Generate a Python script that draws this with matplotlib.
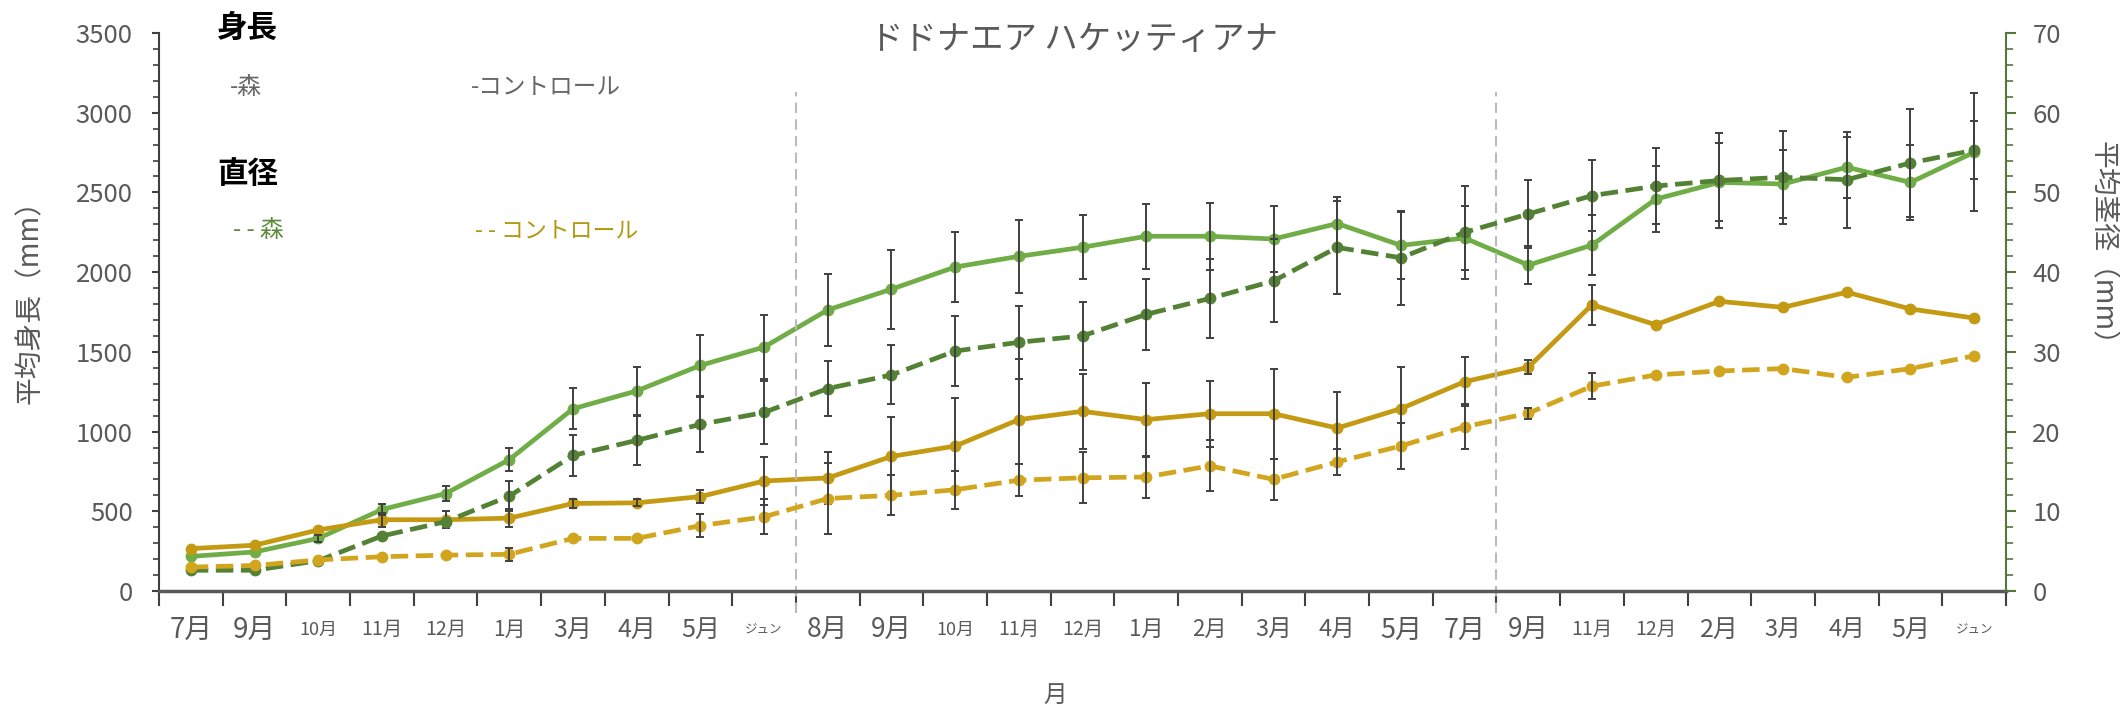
import numpy as np
import matplotlib
matplotlib.use('Agg')
import matplotlib.pyplot as plt
from matplotlib.ticker import MultipleLocator

months = ['7月', '9月', '10月', '11月', '12月', '1月', '3月', '4月', '5月', 'ジュン',
          '8月', '9月', '10月', '11月', '12月', '1月', '2月', '3月', '4月', '5月',
          '7月', '9月', '11月', '12月', '2月', '3月', '4月', '5月', 'ジュン']

# height (mm), left axis
height_forest = [217, 245, 330, 511, 611, 824, 1143, 1255, 1415, 1530,
                 1763, 1893, 2032, 2099, 2156, 2225, 2225, 2208, 2305, 2168,
                 2214, 2044, 2170, 2458, 2563, 2553, 2658, 2563, 2752]
height_control = [266, 287, 383, 447, 447, 457, 549, 553, 592, 690,
                  709, 844, 909, 1075, 1127, 1075, 1112, 1112, 1022, 1144,
                  1313, 1403, 1796, 1670, 1817, 1779, 1874, 1769, 1712]
err_height_forest = [0, 0, 20, 32, 47, 70, 128, 148, 189, 200,
                     228, 247, 222, 231, 200, 204, 210, 204, 168, 210,
                     200, 120, 190, 205, 245, 215, 190, 235, 370]
err_height_control = [0, 0, 0, 43, 53, 58, 30, 21, 40, 149,
                      162, 250, 300, 380, 236, 232, 208, 281, 227, 262,
                      152, 45, 125, 0, 0, 0, 0, 0, 0]

# stem diameter (mm), right axis
diam_forest = [2.6, 2.6, 3.8, 6.9, 8.7, 11.9, 17.0, 18.9, 20.9, 22.4,
               25.4, 27.1, 30.1, 31.2, 32.0, 34.7, 36.7, 38.9, 43.1, 41.8,
               45.0, 47.3, 49.6, 50.8, 51.5, 51.9, 51.6, 53.7, 55.3]
diam_control = [3.0, 3.2, 3.9, 4.3, 4.5, 4.6, 6.6, 6.6, 8.2, 9.3,
                11.6, 12.0, 12.7, 13.9, 14.2, 14.3, 15.7, 14.0, 16.2, 18.2,
                20.6, 22.3, 25.7, 27.1, 27.6, 27.9, 26.8, 27.9, 29.5]
err_diam_forest = [0, 0, 0, 0, 0, 1.9, 2.6, 3.1, 3.4, 3.9,
                   3.5, 3.7, 4.4, 4.6, 4.3, 4.5, 5.0, 5.2, 5.8, 5.9,
                   5.8, 4.3, 4.5, 4.8, 6.0, 5.8, 6.0, 6.8, 3.6]
err_diam_control = [0, 0, 0, 0, 0, 0.85, 0, 0, 1.4, 2.2,
                    4.4, 2.5, 2.4, 2.0, 3.2, 2.6, 3.2, 2.6, 1.6, 2.9,
                    2.8, 0.7, 1.6, 0, 0, 0, 0, 0, 0]

season_breaks = [9.5, 20.5]

label_sizes = [20, 20, 13, 14, 14, 15, 18, 18, 18, 9,
               19, 19, 13, 14, 14, 16, 16, 17, 17, 19.5,
               19.5, 19, 14, 14, 18, 17, 17, 18, 9]

plt.rcParams['font.family'] = ['Noto Sans CJK JP', 'DejaVu Sans']
GRAY = '#595959'
W, H = 2120, 712

fig = plt.figure(figsize=(W / 100, H / 100), dpi=100)
ax = fig.add_axes([159 / W, 121 / H, 1847 / W, 558 / H])
ax2 = ax.twinx()
x = np.arange(len(months))


def draw(axis, vals, err, color, ls):
    vals = np.array(vals)
    err = np.array(err)
    m = err > 0
    axis.errorbar(x[m], vals[m], yerr=err[m], fmt='none', ecolor='#404040',
                  elinewidth=1.4, capsize=2.8, capthick=1.4, zorder=3)
    axis.plot(x, vals, color=color, ls=ls, lw=3.4, marker='o', ms=7.5, zorder=2)


draw(ax, height_forest, err_height_forest, '#70AD47', '-')
draw(ax, height_control, err_height_control, '#C39A12', '-')
draw(ax2, diam_forest, err_diam_forest, '#548235', '--')
draw(ax2, diam_control, err_diam_control, '#D2A51E', '--')

for xv in season_breaks:
    ax.plot([xv, xv], [-0.039, 0.894], transform=ax.get_xaxis_transform(),
            color='#BBBBBB', ls=(0, (5, 3)), lw=1.5, clip_on=False)

ax.set_xlim(-0.5, len(months) - 0.5)
ax.set_ylim(0, 3500)
ax2.set_ylim(0, 70)

ax.set_xticks(x)
ax.set_xticklabels(months)
ax.set_xticks(np.arange(-0.5, len(months), 1), minor=True)
ax.tick_params(axis='x', which='major', length=0, pad=28, colors=GRAY)
ax.tick_params(axis='x', which='minor', length=11, width=1.5, color='#404040')
for lab, fs in zip(ax.get_xticklabels(), label_sizes):
    lab.set_fontsize(fs)
    lab.set_va('center')

ax.set_yticks(range(0, 3501, 500))
ax.yaxis.set_minor_locator(MultipleLocator(100))
ax.tick_params(axis='y', which='major', length=5, width=1.5, pad=14,
               labelsize=18.5, color='#404040', labelcolor=GRAY)
ax.tick_params(axis='y', which='minor', length=4, width=1.2, color='#404040')

ax2.set_yticks(range(0, 71, 10))
ax2.yaxis.set_minor_locator(MultipleLocator(2))
ax2.tick_params(axis='y', which='major', length=7, width=1.5, pad=12,
                labelsize=18.5, color='#56763A', labelcolor=GRAY)
ax2.tick_params(axis='y', which='minor', length=5, width=1.2, color='#56763A')

for s in ['top', 'right']:
    ax.spines[s].set_visible(False)
for s in ['top', 'left', 'bottom']:
    ax2.spines[s].set_visible(False)
ax.spines['left'].set_color('#404040')
ax.spines['left'].set_linewidth(1.5)
ax.spines['bottom'].set_color('#595959')
ax.spines['bottom'].set_linewidth(2.5)
ax2.spines['right'].set_color('#56763A')
ax2.spines['right'].set_linewidth(1.5)


def ftext(px, py, s, **kw):
    fig.text(px / W, 1 - py / H, s, va='center', **kw)


ftext(1074, 39, 'ドドナエア ハケッティアナ', ha='center', fontsize=24, color=GRAY)
ftext(30, 295, '平均身長（mm）', ha='center', rotation=90, fontsize=20, color=GRAY)
ftext(2102, 250, '平均茎径（mm）', ha='center', rotation=-90, fontsize=20, color=GRAY)
ftext(1055, 695, '月', ha='center', fontsize=17, color=GRAY)

ftext(217, 28, '身長', fontsize=22, fontweight='bold', color='black')
ftext(230, 88, '-森', fontsize=17, color='#666666')
ftext(471, 87, '-コントロール', fontsize=17, color='#666666')
ftext(217, 174, '直径', fontsize=22, fontweight='bold', color='black')
ftext(233, 230, '- - 森', fontsize=17, color='#5A8A3A')
ftext(475, 231, '- - コントロール', fontsize=16.5, color='#B09A10')

fig.savefig('out.png', dpi=100)
